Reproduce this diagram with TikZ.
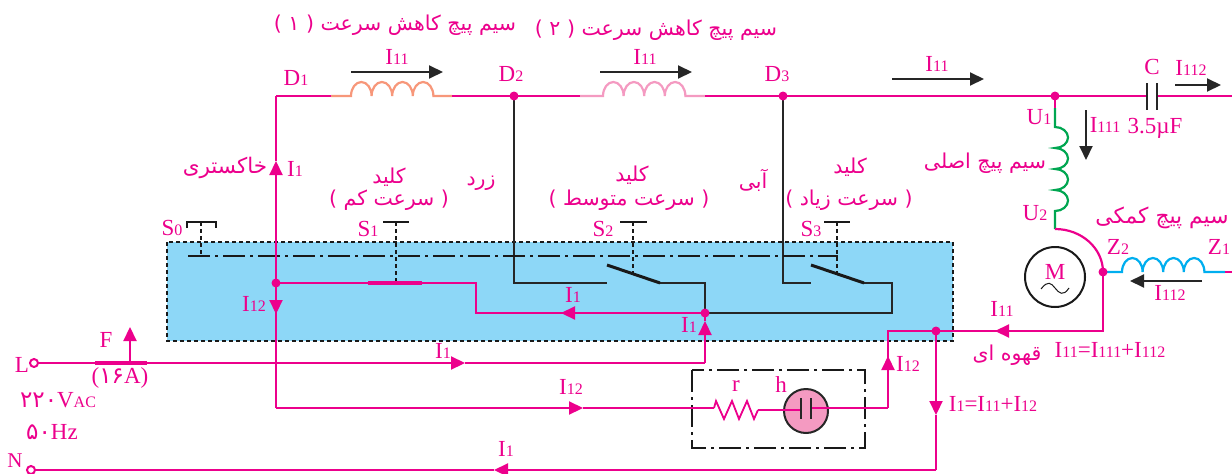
\documentclass[tikz,border=0pt]{standalone}
\usepackage{fontspec}
\usepackage{xcolor}
\setmainfont{Liberation Serif}
\newfontfamily\fa[Script=Arabic]{DejaVu Sans}
\TeXXeTstate=1
\usetikzlibrary{arrows.meta}
\definecolor{mag}{HTML}{EC008C}
\definecolor{boxblue}{HTML}{8DD7F7}
\definecolor{coilA}{HTML}{F7977A}
\definecolor{coilB}{HTML}{F49AC1}
\definecolor{coilC}{HTML}{00A651}
\definecolor{coilD}{HTML}{00AEEF}
\newcommand{\Sub}[1]{{\fontsize{16}{16}\selectfont #1}}
\newcommand{\Fa}[1]{{\fa\beginR #1\endR}}
\tikzset{
 wire/.style={draw=mag, line width=2.2pt},
 bwire/.style={draw=black!85, line width=2pt},
 ptip/.style={wire, -{Triangle[length=14pt,width=13pt]}},
 btip/.style={bwire, -{Triangle[length=14pt,width=13pt]}},
 lab/.style={text=mag, font=\fontsize{23}{23}\selectfont, inner sep=0pt},
 falab/.style={text=mag, font=\fontsize{20.5}{20.5}\selectfont, inner sep=0pt},
 dot/.style={circle, fill=mag, inner sep=0pt, minimum size=9pt},
 term/.style={circle, draw=mag, fill=white, line width=2pt, inner sep=0pt, minimum size=8pt},
 linkage/.style={draw=black!90, line width=1.8pt, dash pattern=on 22pt off 5pt on 3pt off 5pt},
 stem/.style={draw=black!90, line width=1.6pt, dash pattern=on 4pt off 3pt}
}
\begin{document}
\begin{tikzpicture}[x=1pt, y=-1pt]
\useasboundingbox (0,0) rectangle (1232,474);
\fill[boxblue] (167,242) rectangle (953,341);
\draw[black!90, line width=1.6pt, dash pattern=on 4pt off 3pt] (167,242) rectangle (953,341);

\coordinate (D1) at (276,96);
\coordinate (D2) at (514,96);
\coordinate (D3) at (783,96);
\coordinate (U0) at (1055,96);
\coordinate (Z2) at (1103,272);
\coordinate (U2) at (1055,229);
\coordinate (Sa) at (276,283);
\coordinate (Sb) at (705,313);
\coordinate (Sc) at (936,331);
\coordinate (Bl) at (276,408);
\coordinate (Cr) at (888,408);
\coordinate (Lc) at (705,363);
\coordinate (Nc) at (936,470);

% top line and slow coils
\draw[wire] (D1) -- (331,96);
\draw[coilA, line width=2.2pt] (331,96) -- (351,96) arc[start angle=180,end angle=0,x radius=10.3pt,y radius=14pt]
 arc[start angle=180,end angle=0,x radius=10.3pt,y radius=14pt] arc[start angle=180,end angle=0,x radius=10.3pt,y radius=14pt]
 arc[start angle=180,end angle=0,x radius=10.3pt,y radius=14pt] -- (452,96);
\draw[wire] (452,96) -- (D2) -- (580,96);
\draw[coilB, line width=2.2pt] (580,96) -- (603,96) arc[start angle=180,end angle=0,x radius=10.3pt,y radius=14pt]
 arc[start angle=180,end angle=0,x radius=10.3pt,y radius=14pt] arc[start angle=180,end angle=0,x radius=10.3pt,y radius=14pt]
 arc[start angle=180,end angle=0,x radius=10.3pt,y radius=14pt] -- (705,96);
\draw[wire] (705,96) -- (D3) -- (U0) -- (1147,96);
\draw[wire] (1157,96) -- (1232,96);
\draw[black!85, line width=2.4pt] (1147,83) -- (1147,110);
\draw[black!85, line width=2.4pt] (1157,83) -- (1157,110);

% main winding, motor, auxiliary winding
\draw[coilC, line width=2.2pt] (1055,108) -- (1055,127) arc[start angle=90,end angle=-90,x radius=13pt,y radius=10.5pt]
 arc[start angle=90,end angle=-90,x radius=13pt,y radius=10.5pt] arc[start angle=90,end angle=-90,x radius=13pt,y radius=10.5pt]
 arc[start angle=90,end angle=-90,x radius=13pt,y radius=10.5pt] -- (U2);
\draw[wire] (U0) -- (1055,108);
\draw[wire] (U2) arc[start angle=90,end angle=0,x radius=48pt,y radius=43pt];
\draw[coilD, line width=2.2pt] (Z2) -- (1122,272) arc[start angle=180,end angle=0,x radius=10.3pt,y radius=14pt]
 arc[start angle=180,end angle=0,x radius=10.3pt,y radius=14pt] arc[start angle=180,end angle=0,x radius=10.3pt,y radius=14pt]
 arc[start angle=180,end angle=0,x radius=10.3pt,y radius=14pt] -- (1225,272);
\draw[wire] (1225,272) -- (1232,272);
\node[circle, draw=black!90, line width=2pt, minimum size=60pt, inner sep=0pt] (mot) at (1055,277) {};
\node[lab] (lM) at (1055,272) {M};
\draw[black!90, line width=1pt] (1041,289) .. controls (1048,280) and (1051,283) .. (1055,288) .. controls (1059,293) and (1063,297) .. (1069,288);

% switches
\draw[bwire] (D2) -- (514,283) -- (607,283);
\draw[bwire] (D3) -- (783,283) -- (811,283);
\draw[bwire] (Sb) -- (705,283) -- (660,283);
\draw[bwire] (Sb) -- (892,313) -- (892,283) -- (864,283);
\draw[black!90, line width=3pt] (607,265) -- (660,283);
\draw[black!90, line width=3pt] (811,265) -- (864,283);
\draw[linkage] (188,256) -- (838,256);
\draw[stem] (201,222) -- (201,256);
\draw[stem] (396,222) -- (396,283);
\draw[stem] (633,222) -- (633,273);
\draw[stem] (837,222) -- (837,275);
\draw[black!90, line width=2pt] (187,228) -- (187,222) -- (216,222) -- (216,228);
\draw[black!90, line width=2pt] (383,222) -- (409,222);
\draw[black!90, line width=2pt] (620,222) -- (647,222);
\draw[black!90, line width=2pt] (824,222) -- (850,222);

% phase and neutral
\draw[wire] (Sa) -- (476,283) -- (476,313) -- (565,313);
\draw[mag, line width=4pt] (368,283) -- (422,283);
\draw[ptip] (Sb) -- (561,313);
\draw[wire] (Bl) -- (Sa);
\draw[ptip] (Sa) -- (276,314);
\draw[wire] (Sa) -- (276,175);
\draw[ptip] (276,175) -- (276,161);
\draw[wire] (276,161) -- (D1);
\draw[ptip] (Lc) -- (705,321);
\draw[wire] (705,321) -- (Sb);
\node[term] (L) at (34,363) {};
\draw[ptip] (L) -- (465,363);
\draw[wire] (465,363) -- (Lc);
\draw[mag, line width=4pt] (95,363) -- (147,363);
\draw[ptip] (130,363) -- (130,327);
\node[term] (N) at (31,470) {};
\draw[ptip] (Nc) -- (494,470);
\draw[wire] (494,470) -- (N);
\draw[ptip] (Sc) -- (936,415);
\draw[wire] (936,415) -- (Nc);
\draw[wire] (Z2) -- (1103,331) -- (Sc);
\draw[ptip] (1103,331) -- (995,331);
\draw[wire] (Sc) -- (888,331) -- (Cr);

% lamp with resistor
\draw[black!90, line width=2pt, dash pattern=on 22pt off 5pt on 3pt off 5pt] (692,370) rectangle (865,448);
\draw[ptip] (Bl) -- (583,408);
\draw[wire] (583,408) -- (714,408);
\draw[mag, line width=1.8pt] (714,408) -- (716,401) -- (724,419) -- (732,401) -- (739,419) -- (747,401) -- (754,419) -- (758,410);
\node[circle, draw=black!85, fill=coilB, line width=2pt, minimum size=44pt, inner sep=0pt] (lamp) at (806,411) {};
\draw[mag, line width=1.8pt] (758,410) -- (801,410);
\draw[mag, line width=1.8pt] (811,408) -- (Cr);
\draw[black!85, line width=2.4pt] (801,398) -- (801,419);
\draw[black!85, line width=2.4pt] (811,398) -- (811,419);
\draw[ptip] (Cr) -- (888,356);
\draw[wire] (888,356) -- (888,345);

\node[dot] (dD2) at (D2) {};
\node[dot] (dD3) at (D3) {};
\node[dot] (dU0) at (U0) {};
\node[dot] (dZ2) at (Z2) {};
\node[dot] (dSa) at (Sa) {};
\node[dot] (dSb) at (Sb) {};
\node[dot] (dSc) at (Sc) {};

% black current arrows
\draw[btip] (351,72) -- (443,72);
\draw[btip] (600,72) -- (692,72);
\draw[btip] (892,79) -- (984,79);
\draw[btip] (1175,85) -- (1221,85);
\draw[btip] (1086,110) -- (1086,160);
\draw[btip] (1202,281) -- (1130,281);

% labels
\node[lab] (lD1) at (296,78) {D\Sub{1}};
\node[lab] (lD2) at (511,74) {D\Sub{2}};
\node[lab] (lD3) at (777,74) {D\Sub{3}};
\node[lab] (lIa) at (397,57) {I\Sub{11}};
\node[lab] (lIb) at (645,57) {I\Sub{11}};
\node[lab] (lIc) at (937,64) {I\Sub{11}};
\node[lab] (lC) at (1152,67) {C};
\node[lab] (lId) at (1191,68) {I\Sub{112}};
\node[lab] (lU1) at (1039,117) {U\Sub{1}};
\node[lab] (lIe) at (1105,125) {I\Sub{111}};
\node[lab] (lCv) at (1155,128) {3.5µF};
\node[lab] (lU2) at (1035,213) {U\Sub{2}};
\node[lab] (lZ2) at (1118,247) {Z\Sub{2}};
\node[lab] (lZ1) at (1219,247) {Z\Sub{1}};
\node[lab] (lIf) at (1170,293) {I\Sub{112}};
\node[lab] (lIg) at (1002,309) {I\Sub{11}};
\node[lab] (lIh) at (1110,350) {I\Sub{11}=I\Sub{111}+I\Sub{112}};
\node[lab] (lIi) at (295,169) {I\Sub{1}};
\node[lab] (lIj) at (254,304) {I\Sub{12}};
\node[lab] (lIk) at (573,295) {I\Sub{1}};
\node[lab] (lIl) at (689,325) {I\Sub{1}};
\node[lab] (lIm) at (443,351) {I\Sub{1}};
\node[lab] (lIn) at (571,387) {I\Sub{12}};
\node[lab] (lIo) at (908,364) {I\Sub{12}};
\node[lab] (lIp) at (993,404) {I\Sub{1}=I\Sub{11}+I\Sub{12}};
\node[lab] (lIq) at (506,449) {I\Sub{1}};
\node[lab] (lL) at (22,365) {L};
\node[lab, font=\fontsize{21}{21}\selectfont] (lN) at (15,461) {N};
\node[lab] (lF) at (106,340) {F};
\node[lab] (lFu) at (120,378) {({\fa ۱۶}A)};
\node[lab] (lS0) at (172,228) {S\Sub{0}};
\node[lab] (lS1) at (368,229) {S\Sub{1}};
\node[lab] (lS2) at (603,229) {S\Sub{2}};
\node[lab] (lS3) at (811,229) {S\Sub{3}};
\node[lab] (lr) at (736,386) {r};
\node[lab] (lh) at (781,385) {h};
\node[lab] (lV) at (58,400) {{\fa ۲۲۰}V\Sub{AC}};
\node[lab] (lHz) at (52,432) {{\fa ۵۰}Hz};

\node[falab] (wA) at (395,25) {\Fa{سیم پیچ کاهش سرعت ( ۱ )}};
\node[falab] (wB) at (656,30) {\Fa{سیم پیچ کاهش سرعت ( ۲ )}};
\node[falab, font=\fontsize{21.5}{21.5}\selectfont] (gr) at (225,168) {\Fa{خاکستری}};
\node[falab] (ka) at (389,177) {\Fa{کلید}};
\node[falab] (sa) at (389,200) {\Fa{( سرعت کم )}};
\node[falab] (ye) at (481,183) {\Fa{زرد}};
\node[falab] (kb) at (632,175) {\Fa{کلید}};
\node[falab] (sb) at (629,200) {\Fa{( سرعت متوسط )}};
\node[falab] (bl) at (753,180) {\Fa{آبی}};
\node[falab] (kc) at (850,167) {\Fa{کلید}};
\node[falab] (sc) at (849,200) {\Fa{( سرعت زیاد )}};
\node[falab] (wM) at (985,163) {\Fa{سیم پیچ اصلی}};
\node[falab, font=\fontsize{21.8}{21.8}\selectfont] (wH) at (1162,218) {\Fa{سیم پیچ کمکی}};
\node[falab] (br) at (1007,355) {\Fa{قهوه ای}};
\end{tikzpicture}
\end{document}
